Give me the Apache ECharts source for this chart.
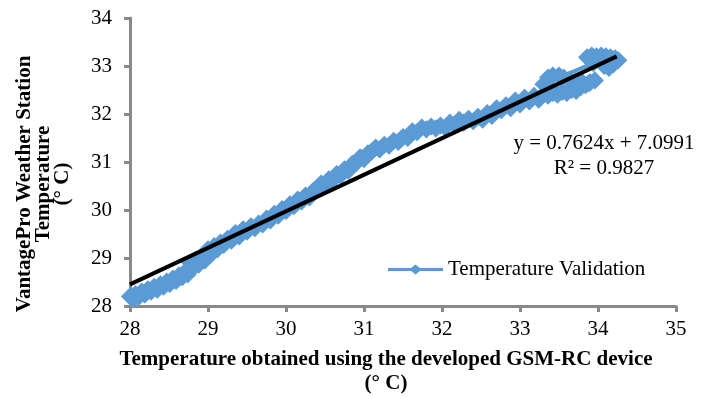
<!DOCTYPE html>
<html>
<head>
<meta charset="utf-8">
<script src="https://cdn.jsdelivr.net/npm/echarts@6/dist/echarts.min.js"></script>
<style>
  html, body { margin: 0; padding: 0; background: #fff; }
  #chart { width: 712px; height: 398px; }
</style>
</head>
<body>
<div id="chart"></div>
<script>
// GSM-RC device reading (x) vs VantagePro station reading (y), in time order
const deviceTemp = [
  27.97, 28.00, 28.04, 28.07, 28.11, 28.15, 28.19, 28.23, 28.27, 28.31,
  28.35, 28.39, 28.43, 28.47, 28.51, 28.55, 28.59, 28.63, 28.67, 28.71,
  28.74, 28.77, 28.80, 28.84, 28.88, 28.92, 28.96, 29.00, 29.04, 29.08,
  29.12, 29.16, 29.20, 29.25, 29.30, 29.35, 29.40, 29.45, 29.50, 29.55,
  29.60, 29.65, 29.70, 29.75, 29.80, 29.85, 29.90, 29.95, 30.00, 30.05,
  30.10, 30.15, 30.20, 30.25, 30.30, 30.35, 30.40, 30.45, 30.50, 30.55,
  30.60, 30.65, 30.70, 30.75, 30.80, 30.85, 30.90, 30.95, 31.00, 31.05,
  31.10, 31.15, 31.20, 31.26, 31.32, 31.38, 31.44, 31.50, 31.56, 31.62,
  31.68, 31.74, 31.80, 31.86, 31.92, 31.98, 32.04, 32.10, 32.16, 32.22,
  32.28, 32.34, 32.40, 32.46, 32.52, 32.58, 32.64, 32.70, 32.76, 32.82,
  32.88, 32.94, 33.00, 33.06, 33.12, 33.18, 33.24, 33.30, 33.36, 33.42,
  33.48, 33.54, 33.60, 33.66, 33.72, 33.78, 33.84, 33.90, 33.96, 33.88,
  33.80, 33.72, 33.64, 33.56, 33.50, 33.42, 33.36, 33.30, 33.94, 33.86,
  33.92, 33.98, 34.04, 34.10, 34.16, 34.22, 34.26, 34.20, 34.14, 34.08
];
const stationTemp = [
  28.10, 28.20, 28.14, 28.25, 28.19, 28.30, 28.24, 28.35, 28.30, 28.40,
  28.34, 28.45, 28.40, 28.51, 28.46, 28.57, 28.52, 28.64, 28.60, 28.72,
  28.66, 28.90, 28.78, 28.96, 28.86, 29.02, 28.95, 29.18, 29.08, 29.25,
  29.18, 29.32, 29.27, 29.40, 29.36, 29.52, 29.45, 29.60, 29.55, 29.66,
  29.62, 29.72, 29.70, 29.82, 29.78, 29.92, 29.88, 30.02, 29.98, 30.12,
  30.08, 30.22, 30.18, 30.30, 30.26, 30.40, 30.45, 30.55, 30.52, 30.64,
  30.62, 30.75, 30.72, 30.85, 30.82, 30.96, 30.98, 31.10, 31.06, 31.18,
  31.22, 31.30, 31.26, 31.36, 31.34, 31.44, 31.42, 31.52, 31.50, 31.64,
  31.62, 31.72, 31.68, 31.74, 31.70, 31.76, 31.72, 31.82, 31.78, 31.88,
  31.82, 31.90, 31.85, 31.94, 31.88, 32.02, 31.96, 32.12, 32.08, 32.18,
  32.12, 32.28, 32.20, 32.34, 32.26, 32.38, 32.30, 32.40, 32.38, 32.44,
  32.40, 32.46, 32.44, 32.50, 32.48, 32.56, 32.60, 32.66, 32.70, 32.64,
  32.66, 32.68, 32.72, 32.76, 32.80, 32.80, 32.76, 32.62, 33.06, 33.18,
  33.22, 33.20, 33.22, 33.20, 33.18, 33.16, 33.12, 33.04, 32.96, 33.00
];

// linear trendline end points (y = 0.7624x + 7.0991)
const trendX = [28.00, 34.24];
const trendY = [28.45, 33.20];

const xTicks = { min: 28, max: 35, step: 1 };
const yTicks = { min: 28, max: 34, step: 1 };

const chart = echarts.init(document.getElementById('chart'));
const serif = '"Liberation Serif", "Times New Roman", serif';
const blue = '#5B9BD5';
const axisGray = '#898989';
// legend key: line with a diamond in the middle (Excel style)
const lineDiamondIcon = 'path://M0,3.5H23L27.5,0L32,3.5H55V6.5H32L27.5,10L23,6.5H0Z';

const axisCommon = {
  type: 'value',
  axisLine: { show: true, lineStyle: { color: axisGray, width: 3 } },
  axisTick: { show: true, inside: false, length: 6, lineStyle: { color: axisGray, width: 3 } },
  splitLine: { show: false },
  axisLabel: { color: '#000', fontFamily: serif, fontSize: 21 }
};

const points = deviceTemp.map((x, i) => [x, stationTemp[i]]);

chart.setOption({
  backgroundColor: '#fff',
  animation: false,
  grid: { left: 130, right: 36, top: 18, bottom: 92 },
  xAxis: {
    ...axisCommon,
    min: xTicks.min, max: xTicks.max, interval: xTicks.step,
    axisLabel: { ...axisCommon.axisLabel, margin: 13 }
  },
  yAxis: {
    ...axisCommon,
    min: yTicks.min, max: yTicks.max, interval: yTicks.step,
    axisLabel: { ...axisCommon.axisLabel, margin: 18 }
  },
  legend: {
    data: [{ name: 'Temperature Validation', icon: lineDiamondIcon }],
    left: 383,
    top: 254,
    itemWidth: 55,
    itemHeight: 10,
    itemStyle: { color: blue, borderWidth: 0 },
    textStyle: { color: '#000', fontFamily: serif, fontSize: 21 }
  },
  series: [
    {
      name: 'Temperature Validation',
      type: 'line',
      data: points,
      symbol: 'none',
      lineStyle: { color: blue, width: 4 },
      itemStyle: { color: blue },
      z: 2
    },
    {
      // diamond markers of the same series, drawn over the connecting line
      name: 'markers',
      type: 'scatter',
      data: points,
      symbol: 'diamond',
      symbolSize: 16,
      itemStyle: { color: blue, borderColor: blue, borderWidth: 1.5, opacity: 1 },
      emphasis: { disabled: true },
      z: 3
    },
    {
      name: 'Trend',
      type: 'line',
      data: trendX.map((x, i) => [x, trendY[i]]),
      symbol: 'none',
      lineStyle: { color: '#000', width: 4 },
      z: 4
    }
  ],
  graphic: [
    {
      type: 'text', x: 604, y: 143,
      style: { text: 'y = 0.7624x + 7.0991', font: '21px ' + serif, fill: '#000', textAlign: 'center', textVerticalAlign: 'middle' }
    },
    {
      type: 'text', x: 604, y: 168,
      style: { text: 'R² = 0.9827', font: '21px ' + serif, fill: '#000', textAlign: 'center', textVerticalAlign: 'middle' }
    },
    {
      type: 'text', x: 44, y: 184, rotation: Math.PI / 2,
      style: {
        text: 'VantagePro Weather Station\nTemperature\n(° C)',
        font: 'bold 21px ' + serif, lineHeight: 19, fill: '#000',
        textAlign: 'center', textVerticalAlign: 'middle'
      }
    },
    {
      type: 'text', x: 386, y: 360,
      style: { text: 'Temperature obtained using the developed GSM-RC device', font: 'bold 21px ' + serif, fill: '#000', textAlign: 'center', textVerticalAlign: 'middle' }
    },
    {
      type: 'text', x: 386, y: 384,
      style: { text: '(° C)', font: 'bold 21px ' + serif, fill: '#000', textAlign: 'center', textVerticalAlign: 'middle' }
    }
  ]
});
</script>
</body>
</html>
